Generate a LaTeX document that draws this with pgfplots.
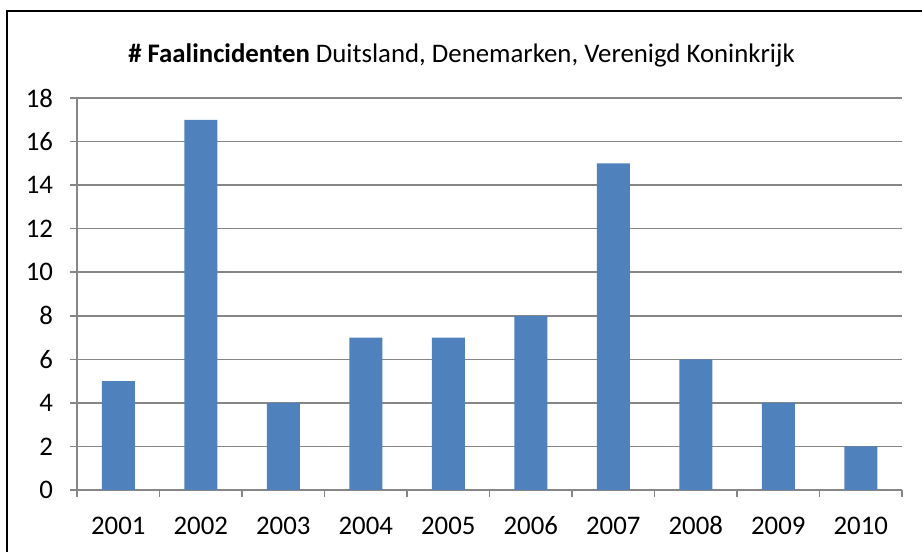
\documentclass[border=0pt]{standalone}
\usepackage{pgfplots}
\pgfplotsset{compat=1.18}
\usepackage{fontspec}
\setmainfont{Carlito}
\definecolor{barblue}{RGB}{79,129,189}
\definecolor{gridgray}{RGB}{134,134,134}

\begin{document}
\begin{tikzpicture}
  \useasboundingbox (0,0) rectangle (461pt,276pt);
  % chart frame (only top and left edges are visible in the crop)
  \draw[line width=1.3pt] (3.5pt,0) -- (3.5pt,270.5pt) -- (461pt,270.5pt);
  \node[anchor=base, font=\fontsize{13.4}{15}\selectfont] at (230.75pt,244.5pt)
    {\textbf{\# Faalincidenten} Duitsland, Denemarken, Verenigd Koninkrijk};
  \begin{axis}[
      at={(38.5pt,31pt)}, anchor=south west,
      scale only axis,
      width=412.5pt, height=196pt,
      xmin=-0.5, xmax=9.5,
      ymin=0, ymax=18,
      ytick={0,2,...,18},
      xtick={0,...,9},
      xticklabels={2001,2002,2003,2004,2005,2006,2007,2008,2009,2010},
      minor xtick={-0.5,0.5,...,9.5},
      major x tick style={draw=none},
      minor x tick style={draw=gridgray, line width=0.8pt},
      y tick style={draw=gridgray, line width=0.8pt},
      tick align=outside,
      major tick length=3.5pt,
      minor tick length=3.5pt,
      axis x line*=bottom,
      axis y line*=left,
      axis line style={-, draw=gridgray, line width=0.8pt},
      ymajorgrids,
      grid style={draw=gridgray, line width=0.8pt},
      ybar,
      bar width=16.5pt,
      ticklabel style={font=\fontsize{13.4}{15}\selectfont},
      /pgf/number format/assume math mode=true,
      yticklabel style={xshift=-5pt},
      xticklabel style={text height=9pt, text depth=0pt, yshift=-6pt},
    ]
    \addplot[fill=barblue, draw=none] coordinates {
      (0,5) (1,17) (2,4) (3,7) (4,7) (5,8) (6,15) (7,6) (8,4) (9,2)
    };
  \end{axis}
\end{tikzpicture}
\end{document}
